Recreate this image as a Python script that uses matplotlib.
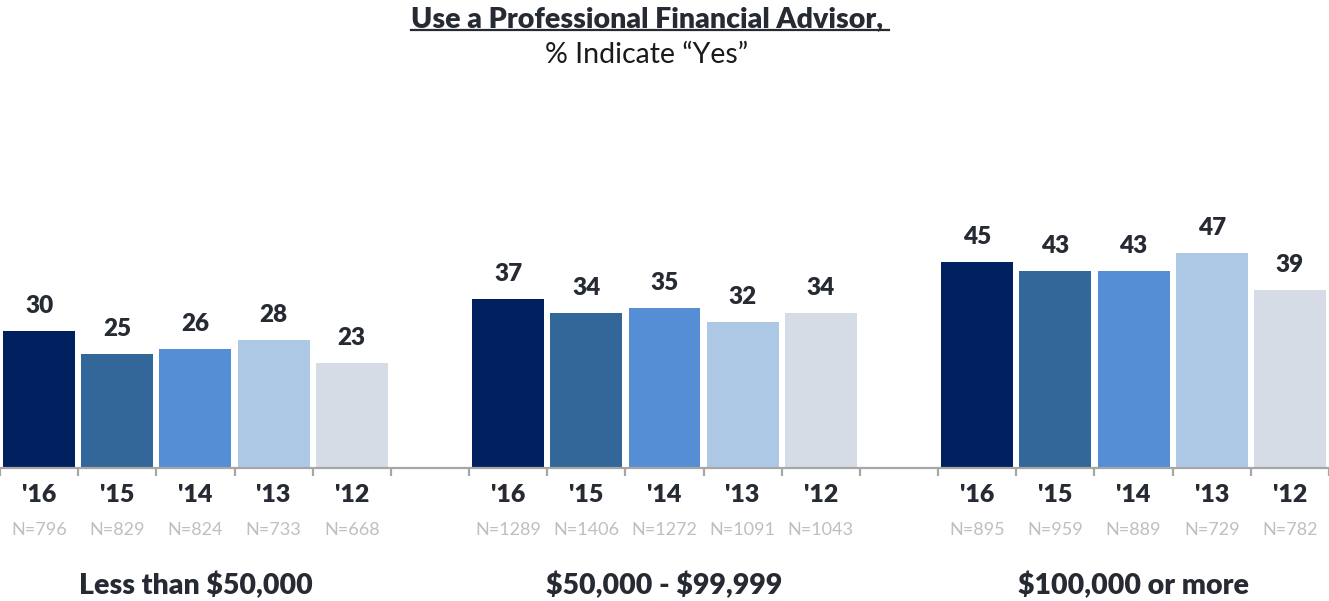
import matplotlib
matplotlib.use("Agg")
import matplotlib.pyplot as plt
from matplotlib.lines import Line2D

# ---- data ----
groups = ["Less than $50,000", "$50,000 - $99,999", "$100,000 or more"]
years = ["'16", "'15", "'14", "'13", "'12"]
values_lt50 = [30, 25, 26, 28, 23]
values_50_99 = [37, 34, 35, 32, 34]
values_100plus = [45, 43, 43, 47, 39]
n_lt50 = [796, 829, 824, 733, 668]
n_50_99 = [1289, 1406, 1272, 1091, 1043]
n_100plus = [895, 959, 889, 729, 782]
title = "Use a Professional Financial Advisor, "
subtitle = "% Indicate \u201cYes\u201d"

colors = ["#002060", "#336699", "#558ED5", "#ADC8E4", "#D6DCE5"]
dark = "#262A33"
grey = "#BFBFBF"
axis_grey = "#A6A6A6"

plt.rcParams['font.family'] = ['Lato', 'DejaVu Sans']
plt.rcParams['text.parse_math'] = False
BOLD = 'heavy'

W, H = 1329, 601
fig = plt.figure(figsize=(W / 100, H / 100), dpi=100)
base_px = 468
top_px = 100
ax = fig.add_axes([0, (H - base_px) / H, 1, (base_px - top_px) / H])
px_per_unit = 4.57
ax.set_ylim(0, (base_px - top_px) / px_per_unit)
ax.set_xlim(-0.5, 16.5)

all_vals = [values_lt50, values_50_99, values_100plus]
all_n = [n_lt50, n_50_99, n_100plus]

for g, (vals, ns) in enumerate(zip(all_vals, all_n)):
    xs = [g * 6 + i for i in range(len(vals))]
    ax.bar(xs, vals, width=0.92, color=colors, edgecolor='none')
    for x, v, yr, n in zip(xs, vals, years, ns):
        ax.annotate(str(v), (x, v), xytext=(0, 25), textcoords='offset pixels',
                    ha='center', va='center', fontsize=17.5, fontweight=BOLD, color=dark)
        ax.annotate(yr, (x, H - 495), xycoords=('data', 'figure pixels'),
                    ha='center', va='center', fontsize=18, fontweight=BOLD, color=dark)
        ax.annotate(f"N={n}", (x, H - 530), xycoords=('data', 'figure pixels'),
                    ha='center', va='center', fontsize=13, color=grey)
    ax.annotate(groups[g], (g * 6 + 2, H - 585), xycoords=('data', 'figure pixels'),
                ha='center', va='center', fontsize=20.5, fontweight=BOLD, color=dark)

for s in ['top', 'left', 'right']:
    ax.spines[s].set_visible(False)
ax.spines['bottom'].set_color(axis_grey)
ax.spines['bottom'].set_linewidth(1.6)
ax.set_yticks([])
ax.set_xticks([x - 0.5 for x in range(18)])
ax.set_xticklabels([])
ax.tick_params(axis='x', direction='out', length=6, width=1.6, color=axis_grey)

t = fig.text(650 / W, 1 - 19 / H, title, ha='center', va='center',
             fontsize=20.5, fontweight=BOLD, color=dark)
fig.text(647 / W, 1 - 55 / H, subtitle, ha='center', va='center',
         fontsize=20.5, color='#1a1a1a')

fig.canvas.draw()
bb = t.get_window_extent()
fig.add_artist(Line2D([bb.x0, bb.x1], [H - 30, H - 30], transform=None,
                      color=dark, linewidth=1.6))

fig.savefig("out.png", dpi=100)
